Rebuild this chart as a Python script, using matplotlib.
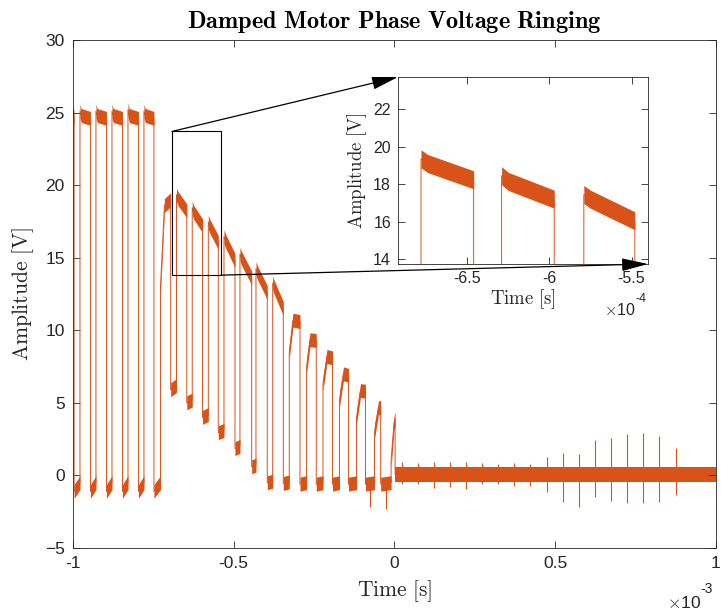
import numpy as np
import matplotlib
matplotlib.use('Agg')
import matplotlib.pyplot as plt
from matplotlib.patches import Rectangle, ConnectionPatch
from matplotlib.ticker import FuncFormatter

plt.rcParams['mathtext.fontset'] = 'cm'
plt.rcParams['font.family'] = ['Liberation Sans', 'DejaVu Sans']

ORANGE = '#D95319'
GREY = '#262626'

# PWM pulses, times in ms
pulse_rise = [-1.0, -0.9782, -0.9285, -0.8787, -0.8289, -0.7792, -0.7278,
              -0.678, -0.629, -0.579, -0.5303, -0.4806, -0.4308, -0.3788,
              -0.3272, -0.2734, -0.2224, -0.1711, -0.1179, -0.0622, -0.0105]
pulse_knee = [-0.998, -0.9742, -0.9245, -0.8747, -0.8249, -0.7752, -0.7154,
              -0.674, -0.625, -0.575, -0.5263, -0.4766, -0.4268, -0.3748,
              -0.3157, -0.2628, -0.2100, -0.1586, -0.1058, -0.0498, -0.0015]
pulse_fall = [-0.9965, -0.9456, -0.8958, -0.8460, -0.7963, -0.7481, -0.6961,
              -0.646, -0.597, -0.548, -0.4961, -0.4442, -0.3956, -0.3458,
              -0.2939, -0.2433, -0.1928, -0.1431, -0.0902, -0.0429, 0.002]
pulse_onset = [25.1, 25.1, 25.1, 25.1, 25.2, 25.1, 13.0,
               19.35, 18.45, 17.45, 16.45, 15.25, 14.25, 13.25,
               8.5, 7.5, 6.3, 5.2, 4.0, 3.0, 1.0]
pulse_knee_v = [24.8, 24.8, 24.8, 24.8, 24.8, 24.8, 18.6,
                19.1, 18.15, 17.2, 16.2, 15.0, 14.0, 13.0,
                10.7, 9.35, 8.2, 7.0, 5.85, 4.65, 3.6]
pulse_end = [24.6, 24.6, 24.6, 24.6, 24.6, 24.6, 19.0,
             18.23, 17.2, 16.05, 14.8, 13.6, 12.6, 11.5,
             10.6, 9.3, 8.1, 6.9, 5.8, 4.7, 3.9]

# low level between pulse i and pulse i+1
low_start = [-1.1, -1.1, -1.1, -1.1, -1.1, -1.1, 5.9,
             5.0, 4.0, 2.95, 1.85, 0.6, -0.5, -0.55,
             -0.6, -0.6, -0.6, -0.6, -0.6, -0.6]
low_end = [-0.5, -0.5, -0.5, -0.5, -0.5, -0.5, 6.2,
           5.2, 4.2, 3.1, 2.0, 0.7, -0.4, -0.45,
           -0.5, -0.5, -0.5, -0.5, -0.5, -0.5]

noise_level = 0.08

# isolated spikes (ms, V)
spike_t = [-0.0762, -0.0264, 0.0224, 0.0722, 0.1229, 0.1726, 0.2224, 0.2731,
           0.3229, 0.3726, 0.4224, 0.4734, 0.5232, 0.5739, 0.6236, 0.6734,
           0.7241, 0.7739, 0.8236, 0.8746]
spike_top = [-0.5, -0.5, 0.9, 0.85, 0.95, 0.9, 0.95, 0.85,
             0.8, 0.85, 0.8, 1.25, 1.52, 1.47, 2.44, 2.6,
             2.85, 2.9, 2.72, 1.87]
spike_bottom = [-2.2, -2.3, -0.6, -0.6, -0.87, -0.8, -0.95, -0.6,
                -0.6, -0.7, -0.75, -1.12, -1.81, -2.16, -1.47, -1.76,
                -1.88, -1.92, -1.81, -1.35]

HALF = 0.48


def draw_signal(ax):
    s = 1e-3
    t, v = [], []
    for i in range(len(pulse_rise)):
        ts = np.array([pulse_rise[i], pulse_knee[i], pulse_fall[i]]) * s
        vs = np.array([pulse_onset[i], pulse_knee_v[i], pulse_end[i]])
        ax.fill_between(ts, vs - HALF, vs + HALF, color=ORANGE, lw=0)
        t += list(ts)
        v += list(vs)
        if i < len(low_start):
            ts = np.array([pulse_fall[i], pulse_rise[i + 1]]) * s
            vs = np.array([low_start[i], low_end[i]])
            ax.fill_between(ts, vs - HALF, vs + HALF, color=ORANGE, lw=0)
            t += list(ts)
            v += list(vs)
    ts = np.array([pulse_fall[-1], 1.0]) * s
    ax.fill_between(ts, noise_level - 0.5, noise_level + 0.5, color=ORANGE, lw=0)
    t += list(ts)
    v += [noise_level, noise_level]
    ax.plot(t, v, color=ORANGE, lw=0.7)
    ax.vlines(np.array(spike_t) * s, spike_bottom, spike_top, color=ORANGE, lw=0.8)


def style(ax, size, pad):
    ax.tick_params(direction='in', top=True, right=True, labelsize=size,
                   colors=GREY, length=5, width=0.6, pad=pad)
    for sp in ax.spines.values():
        sp.set_color(GREY)
        sp.set_linewidth(0.6)


fig = plt.figure(figsize=(7.21, 6.13), dpi=100)
ax = fig.add_axes([0.1012, 0.106, 0.8918, 0.8287])
draw_signal(ax)
ax.set_xlim(-1e-3, 1e-3)
ax.set_ylim(-5, 30)
ax.set_xticks([-1e-3, -0.5e-3, 0, 0.5e-3, 1e-3])
ax.set_yticks(range(-5, 31, 5))
ax.xaxis.set_major_formatter(FuncFormatter(lambda x, p: f'{x * 1e3:g}'))
style(ax, 12.5, 6)
ax.set_xlabel(r'$\mathrm{Time\ [s]}$', fontsize=15.5, color=GREY, labelpad=5)
ax.set_ylabel(r'$\mathrm{Amplitude\ [V]}$', fontsize=15.5, color=GREY, labelpad=6)
ax.set_title(r'$\mathbf{Damped\ Motor\ Phase\ Voltage\ Ringing}$', fontsize=17.5, pad=9)
fig.text(0.972, 0.003, r'$\times$10', ha='right', va='bottom', fontsize=12.5, color=GREY)
fig.text(0.972, 0.027, '-3', ha='left', va='bottom', fontsize=10, color=GREY)

# zoom box
x0, x1, y0, y1 = -6.92e-4, -5.40e-4, 13.8, 23.7
ax.add_patch(Rectangle((x0, y0), x1 - x0, y1 - y0, fill=False, ec='black', lw=0.8, zorder=5))

ins = fig.add_axes([0.552, 0.5693, 0.3467, 0.305])
draw_signal(ins)
ins.set_xlim(x0, x1)
ins.set_ylim(13.75, 23.7)
ins.set_xticks([-6.5e-4, -6e-4, -5.5e-4])
ins.set_yticks([14, 16, 18, 20, 22])
ins.xaxis.set_major_formatter(FuncFormatter(lambda x, p: f'{x * 1e4:g}'))
style(ins, 11.5, 5)
ins.set_xlabel(r'$\mathrm{Time\ [s]}$', fontsize=13.5, color=GREY, labelpad=1)
ins.set_ylabel(r'$\mathrm{Amplitude\ [V]}$', fontsize=13.5, color=GREY, labelpad=3)
fig.text(0.882, 0.482, r'$\times$10', ha='right', va='bottom', fontsize=11.5, color=GREY)
fig.text(0.882, 0.503, '-4', ha='left', va='bottom', fontsize=9, color=GREY)

for a, b in [((x0, y1), (0, 1)), ((x1, y0), (1, 0))]:
    con = ConnectionPatch(xyA=a, coordsA=ax.transData, xyB=b, coordsB=ins.transAxes,
                          arrowstyle='-|>,head_length=0.9,head_width=0.22',
                          mutation_scale=18, color='black', lw=0.9)
    fig.add_artist(con)

fig.savefig('out.png', dpi=100)
